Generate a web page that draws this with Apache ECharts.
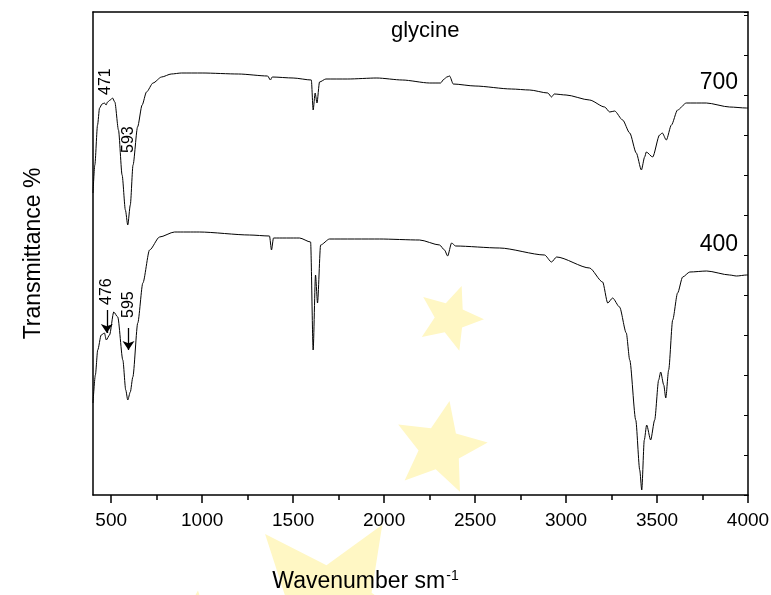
<!DOCTYPE html>
<html>
<head>
<meta charset="utf-8">
<script src="https://cdn.jsdelivr.net/npm/echarts@6/dist/echarts.min.js"></script>
<style>
  html, body { margin: 0; padding: 0; background: #fff; }
  #chart { width: 771px; height: 595px; }
</style>
</head>
<body>
<div id="chart"></div>
<script>
// IR spectra of glycine (transmittance in arbitrary units)
var wn700 = [400, 410, 425, 436, 450, 463, 472, 480, 495, 507, 520, 540, 560, 578, 591, 605, 620, 645, 670, 694,
  730, 777, 830, 886, 1000, 1200, 1360, 1375, 1385, 1500, 1600, 1610, 1621, 1631, 1645, 1680, 1800, 1960, 2100, 2250,
  2310, 2330, 2345, 2360, 2380, 2500, 2700, 2800, 2900, 2920, 2935, 3000, 3129, 3212, 3240, 3267, 3311, 3350, 3386, 3414,
  3432, 3441, 3476, 3514, 3529, 3551, 3579, 3613, 3661, 3771, 3899, 3991, 4000];
var tr700 = [302, 330, 370, 387, 391, 392, 390, 393, 395, 397, 393, 365, 320, 285, 270, 290, 330, 368, 390, 403,
  412, 418, 421, 422, 422, 421, 419, 415, 418, 417, 415, 385, 402, 392, 413, 416, 416, 417, 415, 412,
  412, 416, 418, 419, 411, 409, 406, 405, 402, 398, 401, 400, 395, 388, 383, 384, 375, 362, 342, 325,
  338, 343, 338, 360, 362, 355, 370, 385, 392, 392, 388, 387, 387];

var wn400 = [400, 413, 426, 445, 463, 473, 491, 514, 536, 564, 580, 591, 605, 619, 646, 674, 711, 766, 848, 985,
  1260, 1370, 1381, 1392, 1535, 1596, 1610, 1623, 1634, 1651, 1700, 1975, 2195, 2305, 2332, 2349, 2371, 2393, 2635, 2882,
  2920, 2948, 3129, 3201, 3229, 3256, 3294, 3331, 3350, 3383, 3405, 3416, 3430, 3443, 3465, 3487, 3509, 3520, 3537, 3548,
  3564, 3586, 3613, 3641, 3680, 3773, 3899, 3937, 3992, 4000];
var tr400 = [92, 120, 145, 160, 162, 155, 160, 183, 178, 135, 105, 95, 103, 118, 172, 212, 245, 258, 263, 263,
  260, 259, 245, 257, 257, 253, 145, 220, 192, 250, 256, 256, 255, 250, 245, 239, 252, 249, 247, 240,
  233, 238, 227, 213, 192, 197, 188, 162, 135, 75, 25, 5, 55, 70, 55, 75, 115, 123, 110, 97,
  125, 175, 202, 218, 223, 224, 220, 219, 220, 220];

var xTicks = [500, 1000, 1500, 2000, 2500, 3000, 3500, 4000];
var xMinorTicks = [750, 1250, 1750, 2250, 2750, 3250, 3750];

var peakText700 = ['471', '593'];
var peakWn700 = [471, 593];
var peakText400 = ['476', '595'];
var peakWn400 = [476, 595];

var FONT = "'Liberation Sans', Arial, sans-serif";

function zip(xs, ys) {
  return xs.map(function (x, i) { return [x, ys[i]]; });
}

// five-pointed star outline for the faint watermark
function starPts(cx, cy, R, rot) {
  var pts = [];
  for (var i = 0; i < 10; i++) {
    var r = i % 2 ? R * 0.45 : R;
    var a = rot + i * Math.PI / 5 - Math.PI / 2;
    pts.push([cx + r * Math.cos(a), cy + r * Math.sin(a)]);
  }
  return pts;
}

var chart = echarts.init(document.getElementById('chart'));
var axisCol = '#000';
var starFill = '#FFF7C4';

var option = {
  animation: false,
  backgroundColor: '#fff',
  grid: { left: 93, right: 23, top: 12, bottom: 100, outerBoundsMode: 'none' },
  xAxis: [
    {
      type: 'value', min: 400, max: 4000, position: 'bottom',
      name: '{a|Wavenumber sm}{b|-1}',
      nameLocation: 'middle', nameGap: 74,
      nameTextStyle: {
        padding: [0, 110, 0, 0],
        rich: {
          a: { fontSize: 23, fontFamily: FONT, color: '#000' },
          b: { fontSize: 14, fontFamily: FONT, color: '#000', verticalAlign: 'top', padding: [0, 0, 12, 1] }
        }
      },
      axisLine: { lineStyle: { color: axisCol, width: 1.5 } },
      axisTick: { customValues: xTicks, length: 8, lineStyle: { color: axisCol, width: 1.5 } },
      axisLabel: {
        customValues: xTicks, fontSize: 19, fontFamily: FONT, color: '#000', margin: 16,
        formatter: function (v) { return String(v); }
      },
      splitLine: { show: false }
    },
    {
      type: 'value', min: 400, max: 4000, position: 'bottom',
      axisLine: { show: false },
      axisTick: { customValues: xMinorTicks, length: 5, lineStyle: { color: axisCol, width: 1.5 } },
      axisLabel: { show: false },
      splitLine: { show: false }
    },
    {
      type: 'value', min: 400, max: 4000, position: 'top',
      axisLine: { lineStyle: { color: axisCol, width: 1.5 } },
      axisTick: { show: false },
      axisLabel: { show: false },
      splitLine: { show: false }
    }
  ],
  yAxis: [
    {
      type: 'value', min: 0, max: 483, position: 'left',
      name: 'Transmittance %', nameLocation: 'middle', nameGap: 48,
      nameTextStyle: { fontSize: 23, fontFamily: FONT, color: '#000' },
      axisLine: { show: true, lineStyle: { color: axisCol, width: 1.5 } },
      axisTick: { show: false },
      axisLabel: { show: false },
      splitLine: { show: false }
    },
    {
      type: 'value', min: 0, max: 483, interval: 40, position: 'right',
      axisLine: { show: true, lineStyle: { color: axisCol, width: 1.5 } },
      axisTick: { inside: true, length: 4, lineStyle: { color: axisCol, width: 1 } },
      axisLabel: { show: false },
      splitLine: { show: false }
    }
  ],
  series: [
    {
      name: '700', type: 'line', data: zip(wn700, tr700),
      showSymbol: false, silent: true, smooth: 0.25, smoothMonotone: 'x',
      lineStyle: { color: '#000', width: 1 }
    },
    {
      name: '400', type: 'line', data: zip(wn400, tr400),
      showSymbol: false, silent: true, smooth: 0.25, smoothMonotone: 'x',
      lineStyle: { color: '#000', width: 1 },
      markLine: {
        silent: true,
        symbol: ['none', 'arrow'],
        symbolSize: 9,
        label: { show: false },
        lineStyle: { color: '#000', width: 1.3, type: 'solid' },
        data: [
          [{ coord: [peakWn400[0], 185] }, { coord: [peakWn400[0], 162] }],
          [{ coord: [peakWn400[1], 167] }, { coord: [peakWn400[1], 145] }]
        ]
      }
    }
  ],
  graphic: [
    { type: 'polygon', z: -10, shape: { points: starPts(450, 318, 34, 0.35) }, style: { fill: starFill } },
    { type: 'polygon', z: -10, shape: { points: starPts(440, 448, 48, 0.2) }, style: { fill: starFill } },
    { type: 'polygon', z: -10, shape: { points: starPts(330, 610, 100, 0.55) }, style: { fill: starFill } },
    { type: 'polygon', z: -10, shape: { points: starPts(190, 670, 80, 0.1) }, style: { fill: starFill } },
    { type: 'text', left: 391, top: 20, style: { text: 'glycine', fontSize: 22, fontFamily: FONT, fill: '#000' } },
    { type: 'text', right: 33, top: 71, style: { text: '700', fontSize: 23, fontFamily: FONT, fill: '#000' } },
    { type: 'text', right: 33, top: 233, style: { text: '400', fontSize: 23, fontFamily: FONT, fill: '#000' } }
  ]
};

chart.setOption(option);

// vertical peak labels, anchored through the axis scales
function peakLabel(text, wn, tr) {
  var p = chart.convertToPixel({ gridIndex: 0 }, [wn, tr]);
  return {
    type: 'text', x: p[0], y: p[1], rotation: Math.PI / 2,
    style: { text: text, fontSize: 16, fontFamily: FONT, fill: '#000', align: 'left', verticalAlign: 'middle' }
  };
}

var labels = [
  peakLabel(peakText700[0], peakWn700[0], 400),
  peakLabel(peakText700[1], peakWn700[1], 342),
  peakLabel(peakText400[0], peakWn400[0], 190),
  peakLabel(peakText400[1], peakWn400[1], 177)
];
chart.setOption({ graphic: option.graphic.concat(labels) });
</script>
</body>
</html>
